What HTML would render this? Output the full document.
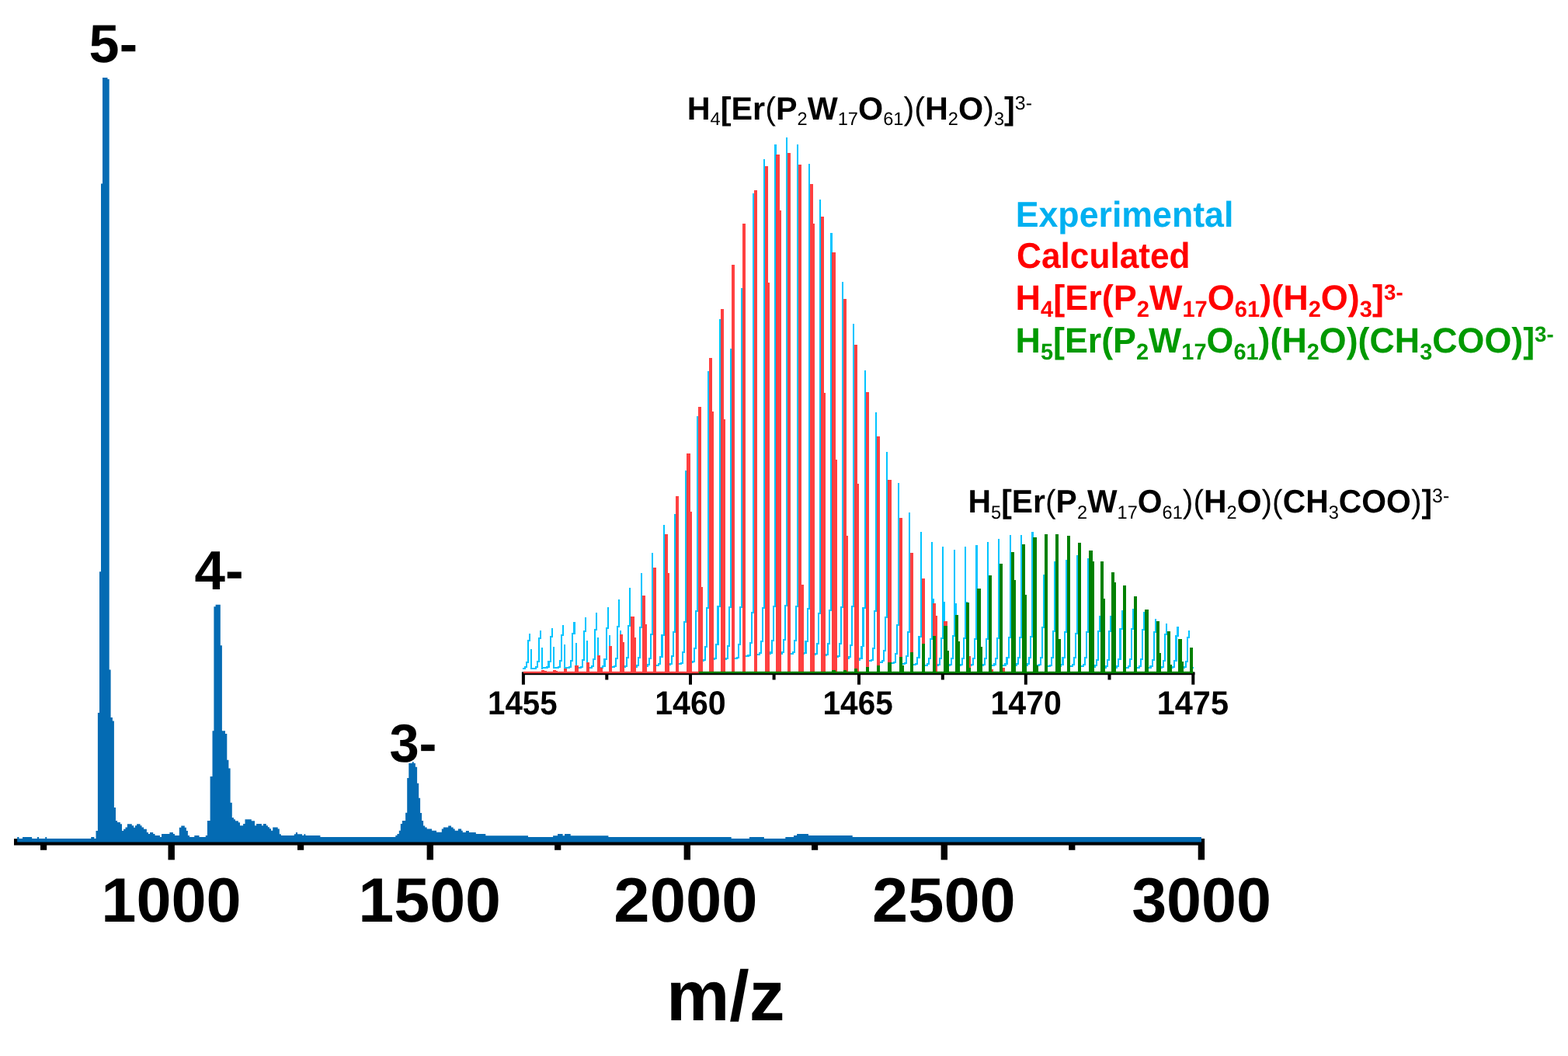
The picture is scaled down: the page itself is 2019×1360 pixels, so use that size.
<!DOCTYPE html>
<html><head><meta charset="utf-8"><title>ESI-MS spectrum</title>
<style>html,body{margin:0;padding:0;background:#fff;width:2019px;height:1360px;overflow:hidden}svg{display:block}text{font-family:"Liberation Sans",Arial,Helvetica,sans-serif;text-rendering:geometricPrecision}</style></head><body>
<svg width="2019" height="1360" viewBox="0 0 2019 1360">
<rect width="2019" height="1360" fill="#fff"/>
<g fill="#000">
<rect x="18" y="1080.2" width="1533" height="8.4"/>
<rect x="216.5" y="1080.2" width="8.4" height="27.2"/>
<rect x="549.6" y="1080.2" width="8.4" height="27.2"/>
<rect x="880.6" y="1080.2" width="8.4" height="27.2"/>
<rect x="1211.6" y="1080.2" width="8.4" height="27.2"/>
<rect x="1542.7" y="1080.2" width="8.4" height="27.2"/>
<rect x="52" y="1080.2" width="8.2" height="14.6"/>
<rect x="383" y="1080.2" width="8.2" height="14.6"/>
<rect x="714.1" y="1080.2" width="8.2" height="14.6"/>
<rect x="1045" y="1080.2" width="8.2" height="14.6"/>
<rect x="1376.2" y="1080.2" width="8.2" height="14.6"/>
</g>
<path d="M22.2,1084.4 L22.2,1078 L24.5,1078 L24.5,1080 L29,1080 L29,1078 L41.2,1078 L41.2,1080 L48,1080 L48,1078 L50,1078 L50,1080 L58.3,1080 L58.3,1078 L60.2,1078 L60.2,1080 L117.2,1080 L117.2,1078 L121.4,1078 L121.4,1080 L123.5,1080 L123.5,1070 L125.9,1070 L125.9,918 L128,918 L128,736.3 L130,736.3 L130,236.5 L132,236.5 L132,100 L138.5,100 L138.5,102 L140.7,102 L140.7,862.5 L142.6,862.5 L142.6,924 L144.9,924 L144.9,928.4 L146.9,928.4 L146.9,1040 L149,1040 L149,1057 L151.1,1057 L151.1,1059.1 L154.9,1059.1 L154.9,1061.2 L157,1061.2 L157,1069.9 L159.1,1069.9 L159.1,1067.8 L161.5,1067.8 L161.5,1065.4 L163.9,1065.4 L163.9,1061.2 L169.8,1061.2 L169.8,1063.3 L172.2,1063.3 L172.2,1065.7 L174,1065.7 L174,1063.3 L176.1,1063.3 L176.1,1061.2 L180.6,1061.2 L180.6,1063.3 L182.6,1063.3 L182.6,1065.4 L185.1,1065.4 L185.1,1067.8 L188.9,1067.8 L188.9,1072 L191,1072 L191,1074 L193,1074 L193,1072 L197.2,1072 L197.2,1074 L199.6,1074 L199.6,1076.1 L205.9,1076.1 L205.9,1077.9 L208,1077.9 L208,1074 L218.4,1074 L218.4,1072 L222.9,1072 L222.9,1074 L225,1074 L225,1076.1 L230.8,1076.1 L230.8,1065.7 L233.3,1065.7 L233.3,1063.6 L237.8,1063.6 L237.8,1065.7 L239.9,1065.7 L239.9,1069.9 L241.9,1069.9 L241.9,1076.1 L244,1076.1 L244,1077.9 L250.3,1077.9 L250.3,1076.1 L256.5,1076.1 L256.5,1077.9 L264.8,1077.9 L264.8,1076.1 L266.9,1076.1 L266.9,1057 L270.6,1057 L270.6,1000 L273.5,1000 L273.5,941.3 L275.4,941.3 L275.4,781.2 L277.6,781.2 L277.6,778.8 L283.8,778.8 L283.8,831.2 L285.9,831.2 L285.9,941.3 L290,941.3 L290,945 L292.3,945 L292.3,978.8 L294.4,978.8 L294.4,989.4 L296.6,989.4 L296.6,1033.8 L298.8,1033.8 L298.8,1053.1 L300.9,1053.1 L300.9,1055.2 L303,1055.2 L303,1057.2 L306.9,1057.2 L306.9,1059.3 L309,1059.3 L309,1063.2 L313.1,1063.2 L313.1,1061.1 L315.5,1061.1 L315.5,1055.2 L323.8,1055.2 L323.8,1057.2 L328,1057.2 L328,1063.2 L330.1,1063.2 L330.1,1061.1 L336.9,1061.1 L336.9,1063.2 L339,1063.2 L339,1061.1 L342.8,1061.1 L342.8,1063.2 L344.9,1063.2 L344.9,1065.3 L347,1065.3 L347,1067.3 L349.1,1067.3 L349.1,1069.7 L351.2,1069.7 L351.2,1065.6 L357.7,1065.6 L357.7,1067.6 L359.8,1067.6 L359.8,1074.2 L361.9,1074.2 L361.9,1076 L378.8,1076 L378.8,1074.2 L380.9,1074.2 L380.9,1072.1 L383,1072.1 L383,1074.2 L389.2,1074.2 L389.2,1076 L391.3,1076 L391.3,1074.2 L393.4,1074.2 L393.4,1076 L412.4,1076 L412.4,1078 L509.3,1078 L509.3,1076 L511.4,1076 L511.4,1073.9 L513.8,1073.9 L513.8,1069.7 L515.8,1069.7 L515.8,1061.1 L517.9,1061.1 L517.9,1056.9 L522.1,1056.9 L522.1,1046.7 L524.2,1046.7 L524.2,1002.1 L526.3,1002.1 L526.3,983 L530.7,983 L530.7,981.3 L532.8,981.3 L532.8,983 L534.9,983 L534.9,987.7 L537.1,987.7 L537.1,1008.8 L539.2,1008.8 L539.2,1027.8 L541.1,1027.8 L541.1,1046.9 L543.1,1046.9 L543.1,1057 L545.1,1057 L545.1,1063.4 L547.2,1063.4 L547.2,1065.5 L549.7,1065.5 L549.7,1067.6 L556.1,1067.6 L556.1,1069.7 L562,1069.7 L562,1071.8 L568.8,1071.8 L568.8,1067.6 L570.9,1067.6 L570.9,1065.5 L577.2,1065.5 L577.2,1063.4 L581,1063.4 L581,1065.5 L583.6,1065.5 L583.6,1067.6 L585.7,1067.6 L585.7,1069.7 L589.9,1069.7 L589.9,1067.6 L594.1,1067.6 L594.1,1069.7 L595.8,1069.7 L595.8,1071.9 L599.8,1071.9 L599.8,1070 L603.9,1070 L603.9,1072 L612.8,1072 L612.8,1074 L625.3,1074 L625.3,1076.2 L680,1076.2 L680,1078 L712.1,1078 L712.1,1076.2 L718,1076.2 L718,1074 L724.6,1074 L724.6,1076.2 L727,1076.2 L727,1074 L734.7,1074 L734.7,1076.2 L783.4,1076.2 L783.4,1078 L941.7,1078 L941.7,1080 L964.9,1080 L964.9,1078 L983.9,1078 L983.9,1080 L1011.3,1080 L1011.3,1078 L1022,1078 L1022,1076 L1026.1,1076 L1026.1,1074 L1041,1074 L1041,1076 L1097.7,1076 L1097.7,1078 L1547,1078 L1547,1084.4 Z" fill="#046bb3"/>
<g transform="matrix(1.01786,0,0,0.99900,-2.289,-0.400)"><text x="145.5" y="80" font-size="69" font-weight="bold" fill="#000" text-anchor="middle">5-</text></g>
<g transform="matrix(1.01379,0,0,1.01149,-2.762,-8.888)"><text x="281" y="759.6" font-size="70" font-weight="bold" fill="#000" text-anchor="middle">4-</text></g>
<g transform="matrix(0.98793,0,0,0.99696,6.859,2.802)"><text x="531.5" y="981" font-size="69.5" font-weight="bold" fill="#000" text-anchor="middle">3-</text></g>
<g transform="matrix(0.97914,0,0,0.97699,3.666,26.476)"><text x="221.5" y="1187.8" font-size="82.8" font-weight="bold" fill="#000" text-anchor="middle">1000</text></g>
<g transform="matrix(0.99771,0,0,0.97699,0.667,26.476)"><text x="553.8" y="1187.8" font-size="82.8" font-weight="bold" fill="#000" text-anchor="middle">1500</text></g>
<g transform="matrix(1.00452,0,0,0.97699,-5.898,26.476)"><text x="884.8" y="1187.8" font-size="82.8" font-weight="bold" fill="#000" text-anchor="middle">2000</text></g>
<g transform="matrix(1.00282,0,0,0.97699,-3.784,26.476)"><text x="1215.8" y="1187.8" font-size="82.8" font-weight="bold" fill="#000" text-anchor="middle">2500</text></g>
<g transform="matrix(0.97654,0,0,0.97699,36.387,26.476)"><text x="1547" y="1187.8" font-size="82.8" font-weight="bold" fill="#000" text-anchor="middle">3000</text></g>
<g transform="matrix(1.01773,0,0,1.01689,-18.372,-21.934)"><text x="936" y="1313.8" font-size="90" font-weight="bold" fill="#000" text-anchor="middle">m/z</text></g>
<g fill="#000">
<rect x="672" y="865.6" width="866.4" height="3.6"/>
<rect x="671.9" y="865.6" width="4" height="16.1"/>
<rect x="887" y="865.6" width="4" height="16.1"/>
<rect x="1104" y="865.6" width="4" height="16.1"/>
<rect x="1318.8" y="865.6" width="4" height="16.1"/>
<rect x="1534.3" y="865.6" width="4" height="16.1"/>
<rect x="779.3" y="865.6" width="4" height="9.9"/>
<rect x="994.6" y="865.6" width="4" height="9.9"/>
<rect x="1211.8" y="865.6" width="4" height="9.9"/>
<rect x="1426.5" y="865.6" width="4" height="9.9"/>
</g>
<g fill="#00c4ff" shape-rendering="crispEdges"><rect x="672.5" y="859.6" width="2.1" height="2"/><rect x="685" y="859.5" width="4" height="2"/><rect x="699.4" y="859.4" width="4" height="2"/><rect x="713.8" y="859.3" width="4" height="2"/><rect x="728.1" y="859.2" width="4" height="2"/><rect x="742.5" y="859" width="4" height="2"/><rect x="756.9" y="858.8" width="4" height="2"/><rect x="771.3" y="858.6" width="4" height="2"/><rect x="785.7" y="858.4" width="4" height="2"/><rect x="800.1" y="858" width="4" height="2"/><rect x="814.5" y="857.5" width="4" height="2"/><rect x="828.9" y="856.8" width="4" height="2"/><rect x="843.3" y="855.9" width="4" height="2"/><rect x="857.7" y="855.1" width="4" height="2"/><rect x="872" y="854.1" width="4" height="2"/><rect x="886.4" y="852.2" width="4" height="2"/><rect x="900.8" y="850.3" width="4" height="2"/><rect x="915.2" y="848.4" width="4" height="2"/><rect x="929.6" y="848" width="4" height="2"/><rect x="944" y="847.4" width="4" height="2"/><rect x="958.4" y="844.4" width="4" height="2"/><rect x="972.8" y="841.9" width="4" height="2"/><rect x="987.2" y="840.9" width="4" height="2"/><rect x="1001.6" y="840.5" width="4" height="2"/><rect x="1015.9" y="840.5" width="4" height="2"/><rect x="1030.3" y="841" width="4" height="2"/><rect x="1044.7" y="842.1" width="4" height="2"/><rect x="1059.1" y="843.4" width="4" height="2"/><rect x="1073.5" y="845" width="4" height="2"/><rect x="1087.9" y="846.8" width="4" height="2"/><rect x="1102.3" y="848.5" width="4" height="2"/><rect x="1116.7" y="850.2" width="4" height="2"/><rect x="1131.1" y="851.8" width="4" height="2"/><rect x="1145.5" y="853.1" width="4" height="2"/><rect x="1159.8" y="854.3" width="4" height="2"/><rect x="1174.2" y="855.2" width="4" height="2"/><rect x="1188.6" y="855.8" width="4" height="2"/><rect x="1203" y="856.1" width="4" height="2"/><rect x="1217.4" y="856.3" width="4" height="2"/><rect x="1231.8" y="856.3" width="4" height="2"/><rect x="1246.2" y="856.2" width="4" height="2"/><rect x="1260.6" y="856.1" width="4" height="2"/><rect x="1275" y="855.9" width="4" height="2"/><rect x="1289.4" y="855.8" width="4" height="2"/><rect x="1303.7" y="855.7" width="4" height="2"/><rect x="1318.1" y="855.7" width="4" height="2"/><rect x="1332.5" y="856.4" width="4" height="2"/><rect x="1346.9" y="857" width="4" height="2"/><rect x="1361.3" y="856.7" width="4" height="2"/><rect x="1375.7" y="856.6" width="4" height="2"/><rect x="1390.1" y="856.6" width="4" height="2"/><rect x="1404.5" y="857.7" width="4" height="2"/><rect x="1418.9" y="858.9" width="4" height="2"/><rect x="1433.3" y="858.8" width="4" height="2"/><rect x="1447.6" y="858.6" width="4" height="2"/><rect x="1462" y="858.7" width="4" height="2"/><rect x="1476.4" y="858.9" width="4" height="2"/><rect x="1490.8" y="859.1" width="4" height="2"/><rect x="1505.2" y="859.2" width="4" height="2"/><rect x="1519.6" y="859.4" width="4" height="2"/><rect x="1534" y="859.4" width="3.1" height="2"/><rect x="674.6" y="858.1" width="2.1" height="3.5"/><rect x="676.7" y="851.9" width="2.1" height="8.1"/><rect x="678.7" y="824.1" width="2.1" height="29.8"/><rect x="680.8" y="816" width="2.1" height="10.1"/><rect x="682.9" y="836.2" width="2.1" height="25.3"/><rect x="689" y="858" width="2.1" height="3.5"/><rect x="691.1" y="851.1" width="2.1" height="8.9"/><rect x="693.1" y="820.6" width="2.1" height="32.4"/><rect x="695.2" y="811.8" width="2.1" height="10.8"/><rect x="697.3" y="833.9" width="2.1" height="27.6"/><rect x="703.4" y="857.9" width="2.1" height="3.5"/><rect x="705.4" y="850.7" width="2.1" height="9.2"/><rect x="707.5" y="819.1" width="2.1" height="33.6"/><rect x="709.6" y="809.4" width="2.1" height="11.7"/><rect x="711.7" y="832.6" width="2.1" height="28.8"/><rect x="717.8" y="857.8" width="2.1" height="3.5"/><rect x="719.8" y="850.1" width="2.1" height="9.7"/><rect x="721.9" y="816.9" width="2.1" height="35.2"/><rect x="724" y="805.3" width="2.1" height="13.6"/><rect x="726.1" y="830.3" width="2.1" height="31"/><rect x="732.1" y="857.7" width="2.1" height="3.5"/><rect x="734.2" y="849.6" width="2.1" height="10.1"/><rect x="736.3" y="815" width="2.1" height="36.5"/><rect x="738.4" y="801.3" width="2.1" height="15.7"/><rect x="740.5" y="828.1" width="2.1" height="33.1"/><rect x="746.5" y="857.5" width="2.1" height="3.5"/><rect x="748.6" y="848.8" width="2.1" height="10.7"/><rect x="750.7" y="812.3" width="2.1" height="38.5"/><rect x="752.8" y="794.8" width="2.1" height="19.5"/><rect x="754.8" y="824.5" width="2.1" height="36.5"/><rect x="760.9" y="857.3" width="2.1" height="3.5"/><rect x="763" y="848.1" width="2.1" height="11.2"/><rect x="765.1" y="810.1" width="2.1" height="40"/><rect x="767.2" y="788.5" width="2.1" height="23.6"/><rect x="769.2" y="821.1" width="2.1" height="39.7"/><rect x="775.3" y="857.1" width="2.1" height="3.5"/><rect x="777.4" y="847.5" width="2.1" height="11.6"/><rect x="779.5" y="808.2" width="2.1" height="41.3"/><rect x="781.6" y="782" width="2.1" height="28.2"/><rect x="783.6" y="817.5" width="2.1" height="43.1"/><rect x="789.7" y="856.9" width="2.1" height="3.5"/><rect x="791.8" y="846.7" width="2.1" height="12.2"/><rect x="793.9" y="806.2" width="2.1" height="42.5"/><rect x="795.9" y="771.9" width="2.1" height="36.3"/><rect x="798" y="811.9" width="2.1" height="48.4"/><rect x="804.1" y="856.5" width="2.1" height="3.5"/><rect x="806.2" y="846" width="2.1" height="12.5"/><rect x="808.3" y="805.2" width="2.1" height="42.7"/><rect x="810.3" y="756.8" width="2.1" height="50.4"/><rect x="812.4" y="803.6" width="2.1" height="56.4"/><rect x="818.5" y="856" width="2.1" height="3.5"/><rect x="820.6" y="845.7" width="2.1" height="12.3"/><rect x="822.6" y="807.4" width="2.1" height="40.3"/><rect x="824.7" y="737.8" width="2.1" height="71.6"/><rect x="826.8" y="793.2" width="2.1" height="66.3"/><rect x="832.9" y="855.3" width="2.1" height="3.5"/><rect x="835" y="846.5" width="2.1" height="10.8"/><rect x="837" y="816.4" width="2.1" height="32.2"/><rect x="839.1" y="712.2" width="2.1" height="106.2"/><rect x="841.2" y="779.1" width="2.1" height="79.7"/><rect x="847.3" y="854.4" width="2.1" height="3.5"/><rect x="849.3" y="845.2" width="2.1" height="11.2"/><rect x="851.4" y="816.6" width="2.1" height="30.6"/><rect x="853.5" y="676.2" width="2.1" height="142.4"/><rect x="855.6" y="759.3" width="2.1" height="98.6"/><rect x="861.7" y="853.6" width="2.1" height="3.5"/><rect x="863.7" y="844" width="2.1" height="11.7"/><rect x="865.8" y="813.1" width="2.1" height="32.9"/><rect x="867.9" y="661.8" width="2.1" height="153.3"/><rect x="870" y="751.4" width="2.1" height="105.7"/><rect x="876" y="852.6" width="2.1" height="3.5"/><rect x="878.1" y="839.2" width="2.1" height="15.4"/><rect x="880.2" y="799.7" width="2.1" height="41.5"/><rect x="882.3" y="606" width="2.1" height="195.7"/><rect x="884.4" y="720.7" width="2.1" height="135.4"/><rect x="890.4" y="850.7" width="2.1" height="3.5"/><rect x="892.5" y="834.1" width="2.1" height="18.6"/><rect x="894.6" y="786.1" width="2.1" height="50"/><rect x="896.7" y="535.6" width="2.1" height="252.5"/><rect x="898.7" y="682" width="2.1" height="172.2"/><rect x="904.8" y="848.8" width="2.1" height="3.5"/><rect x="906.9" y="831.5" width="2.1" height="19.2"/><rect x="909" y="781.7" width="2.1" height="51.8"/><rect x="911.1" y="478.3" width="2.1" height="305.4"/><rect x="913.1" y="650.5" width="2.1" height="201.8"/><rect x="919.2" y="846.9" width="2.1" height="3.5"/><rect x="921.3" y="829.4" width="2.1" height="19.5"/><rect x="923.4" y="779.9" width="2.1" height="51.5"/><rect x="925.5" y="411" width="2.1" height="370.9"/><rect x="927.5" y="613.5" width="2.1" height="237"/><rect x="933.6" y="846.5" width="2.1" height="3.5"/><rect x="935.7" y="830.5" width="2.1" height="18"/><rect x="937.8" y="780.5" width="2.1" height="52"/><rect x="939.8" y="448.9" width="2.1" height="333.6"/><rect x="941.9" y="634.3" width="2.1" height="215.7"/><rect x="948" y="845.9" width="2.1" height="3.5"/><rect x="950.1" y="828.6" width="2.1" height="19.3"/><rect x="952.2" y="780.5" width="2.1" height="50"/><rect x="954.2" y="371" width="2.1" height="411.5"/><rect x="956.3" y="591.5" width="2.1" height="257.9"/><rect x="962.4" y="842.5" width="2.1" height="3.8"/><rect x="964.5" y="827.2" width="2.1" height="17.3"/><rect x="966.5" y="787.5" width="2.1" height="41.8"/><rect x="968.6" y="249" width="2.1" height="540.5"/><rect x="970.7" y="524.4" width="2.1" height="322"/><rect x="976.8" y="840.4" width="2.1" height="3.5"/><rect x="978.9" y="824.8" width="2.1" height="17.6"/><rect x="980.9" y="782.1" width="2.1" height="44.7"/><rect x="983" y="204.5" width="2.1" height="579.6"/><rect x="985.1" y="499.9" width="2.1" height="344"/><rect x="991.2" y="839.4" width="2.1" height="3.5"/><rect x="993.2" y="823.8" width="2.1" height="17.7"/><rect x="995.3" y="779.9" width="2.1" height="45.9"/><rect x="997.4" y="185.5" width="2.1" height="596.4"/><rect x="999.5" y="489.4" width="2.1" height="353.5"/><rect x="1005.6" y="839" width="2.1" height="3.5"/><rect x="1007.6" y="823.3" width="2.1" height="17.7"/><rect x="1009.7" y="778.9" width="2.1" height="46.4"/><rect x="1011.8" y="177.3" width="2.1" height="603.6"/><rect x="1013.9" y="484.9" width="2.1" height="357.6"/><rect x="1019.9" y="839" width="2.1" height="3.5"/><rect x="1022" y="823.8" width="2.1" height="17.3"/><rect x="1024.1" y="779.9" width="2.1" height="45.9"/><rect x="1026.2" y="185.5" width="2.1" height="596.4"/><rect x="1028.3" y="489.4" width="2.1" height="353.1"/><rect x="1034.3" y="839.5" width="2.1" height="3.5"/><rect x="1036.4" y="825.1" width="2.1" height="16.4"/><rect x="1038.5" y="782.9" width="2.1" height="44.2"/><rect x="1040.6" y="210.9" width="2.1" height="574"/><rect x="1042.6" y="503.4" width="2.1" height="339.6"/><rect x="1048.7" y="840.6" width="2.1" height="3.5"/><rect x="1050.8" y="827.7" width="2.1" height="14.9"/><rect x="1052.9" y="788.5" width="2.1" height="41.2"/><rect x="1055" y="257.2" width="2.1" height="533.3"/><rect x="1057" y="528.9" width="2.1" height="315.2"/><rect x="1063.1" y="841.9" width="2.1" height="3.5"/><rect x="1065.2" y="827.9" width="2.1" height="16.1"/><rect x="1067.3" y="784.9" width="2.1" height="45"/><rect x="1069.4" y="299.5" width="2.1" height="487.4"/><rect x="1071.4" y="552.1" width="2.1" height="293.3"/><rect x="1077.5" y="843.5" width="2.1" height="3.5"/><rect x="1079.6" y="828.4" width="2.1" height="17.1"/><rect x="1081.7" y="780.8" width="2.1" height="49.6"/><rect x="1083.7" y="362.8" width="2.1" height="420"/><rect x="1085.8" y="586.9" width="2.1" height="260.1"/><rect x="1091.9" y="845.3" width="2.1" height="3.5"/><rect x="1094" y="829.6" width="2.1" height="17.7"/><rect x="1096.1" y="779.9" width="2.1" height="51.6"/><rect x="1098.1" y="417.1" width="2.1" height="364.8"/><rect x="1100.2" y="616.8" width="2.1" height="232"/><rect x="1106.3" y="847" width="2.1" height="3.5"/><rect x="1108.4" y="831.5" width="2.1" height="17.5"/><rect x="1110.4" y="781.6" width="2.1" height="51.8"/><rect x="1112.5" y="476.6" width="2.1" height="307"/><rect x="1114.6" y="649.5" width="2.1" height="200.9"/><rect x="1120.7" y="848.7" width="2.1" height="3.5"/><rect x="1122.8" y="833.9" width="2.1" height="16.8"/><rect x="1124.8" y="785.7" width="2.1" height="50.2"/><rect x="1126.9" y="531.4" width="2.1" height="256.3"/><rect x="1129" y="679.7" width="2.1" height="172.5"/><rect x="1135.1" y="850.3" width="2.1" height="3.5"/><rect x="1137.1" y="837.2" width="2.1" height="15.1"/><rect x="1139.2" y="794" width="2.1" height="45.2"/><rect x="1141.3" y="582" width="2.1" height="214"/><rect x="1143.4" y="707.5" width="2.1" height="146.3"/><rect x="1149.5" y="851.6" width="2.1" height="3.5"/><rect x="1151.5" y="840.6" width="2.1" height="13"/><rect x="1153.6" y="803.6" width="2.1" height="39"/><rect x="1155.7" y="622.2" width="2.1" height="183.4"/><rect x="1157.8" y="729.6" width="2.1" height="125.5"/><rect x="1163.8" y="852.8" width="2.1" height="3.5"/><rect x="1165.9" y="843.8" width="2.1" height="11"/><rect x="1168" y="812.7" width="2.1" height="33.1"/><rect x="1170.1" y="660.1" width="2.1" height="154.6"/><rect x="1172.2" y="750.5" width="2.1" height="105.8"/><rect x="1178.2" y="853.7" width="2.1" height="3.5"/><rect x="1180.3" y="845.9" width="2.1" height="9.8"/><rect x="1182.4" y="818.7" width="2.1" height="29.3"/><rect x="1184.5" y="685" width="2.1" height="135.7"/><rect x="1186.5" y="764.2" width="2.1" height="93.1"/><rect x="1192.6" y="854.3" width="2.1" height="3.5"/><rect x="1194.7" y="847" width="2.1" height="9.3"/><rect x="1196.8" y="821.8" width="2.1" height="27.3"/><rect x="1198.9" y="697.9" width="2.1" height="125.9"/><rect x="1200.9" y="771.2" width="2.1" height="86.6"/><rect x="1207" y="854.6" width="2.1" height="3.5"/><rect x="1209.1" y="847" width="2.1" height="9.6"/><rect x="1211.2" y="820.6" width="2.1" height="28.4"/><rect x="1213.3" y="704.1" width="2.1" height="118.5"/><rect x="1215.3" y="774.7" width="2.1" height="83.4"/><rect x="1221.4" y="854.8" width="2.1" height="3.5"/><rect x="1223.5" y="846.7" width="2.1" height="10"/><rect x="1225.6" y="818.3" width="2.1" height="30.4"/><rect x="1227.6" y="708.3" width="2.1" height="112"/><rect x="1229.7" y="777" width="2.1" height="81.3"/><rect x="1235.8" y="854.8" width="2.1" height="3.5"/><rect x="1237.9" y="847" width="2.1" height="9.7"/><rect x="1240" y="820.6" width="2.1" height="28.4"/><rect x="1242" y="704.1" width="2.1" height="118.5"/><rect x="1244.1" y="774.7" width="2.1" height="83.6"/><rect x="1250.2" y="854.7" width="2.1" height="3.5"/><rect x="1252.3" y="847.2" width="2.1" height="9.5"/><rect x="1254.3" y="821.8" width="2.1" height="27.4"/><rect x="1256.4" y="702.1" width="2.1" height="121.7"/><rect x="1258.5" y="773.6" width="2.1" height="84.6"/><rect x="1264.6" y="854.6" width="2.1" height="3.5"/><rect x="1266.7" y="847" width="2.1" height="9.5"/><rect x="1268.7" y="821.8" width="2.1" height="27.3"/><rect x="1270.8" y="697.9" width="2.1" height="125.9"/><rect x="1272.9" y="771.2" width="2.1" height="86.8"/><rect x="1279" y="854.4" width="2.1" height="3.5"/><rect x="1281" y="846.7" width="2.1" height="9.8"/><rect x="1283.1" y="820.7" width="2.1" height="27.9"/><rect x="1285.2" y="693.5" width="2.1" height="129.2"/><rect x="1287.3" y="768.8" width="2.1" height="89.1"/><rect x="1293.4" y="854.3" width="2.1" height="3.5"/><rect x="1295.4" y="846.3" width="2.1" height="10"/><rect x="1297.5" y="819.7" width="2.1" height="28.6"/><rect x="1299.6" y="689.2" width="2.1" height="132.5"/><rect x="1301.7" y="766.5" width="2.1" height="91.3"/><rect x="1307.7" y="854.2" width="2.1" height="3.5"/><rect x="1309.8" y="846.3" width="2.1" height="9.9"/><rect x="1311.9" y="819.7" width="2.1" height="28.6"/><rect x="1314" y="689.2" width="2.1" height="132.5"/><rect x="1316.1" y="766.5" width="2.1" height="91.3"/><rect x="1322.1" y="854.2" width="2.1" height="3.5"/><rect x="1324.2" y="846" width="2.1" height="10.2"/><rect x="1326.3" y="818.7" width="2.1" height="29.2"/><rect x="1328.4" y="685.1" width="2.1" height="135.6"/><rect x="1330.4" y="764.2" width="2.1" height="93.5"/><rect x="1336.5" y="854.9" width="2.1" height="3.5"/><rect x="1338.6" y="845.7" width="2.1" height="11.3"/><rect x="1340.7" y="807" width="2.1" height="40.7"/><rect x="1342.8" y="740" width="2.1" height="69"/><rect x="1344.8" y="794.4" width="2.1" height="64"/><rect x="1350.9" y="855.5" width="2.1" height="3.5"/><rect x="1353" y="846" width="2.1" height="11.5"/><rect x="1355.1" y="811.7" width="2.1" height="36.3"/><rect x="1357.2" y="723" width="2.1" height="90.7"/><rect x="1359.2" y="785.1" width="2.1" height="74"/><rect x="1365.3" y="855.2" width="2.1" height="3.5"/><rect x="1367.4" y="846.1" width="2.1" height="11.2"/><rect x="1369.5" y="812.5" width="2.1" height="35.6"/><rect x="1371.5" y="721" width="2.1" height="93.5"/><rect x="1373.6" y="784" width="2.1" height="74.8"/><rect x="1379.7" y="855.1" width="2.1" height="3.5"/><rect x="1381.8" y="846.4" width="2.1" height="10.7"/><rect x="1383.9" y="815.3" width="2.1" height="33.1"/><rect x="1385.9" y="714.5" width="2.1" height="102.8"/><rect x="1388" y="780.4" width="2.1" height="78.2"/><rect x="1394.1" y="855.1" width="2.1" height="3.5"/><rect x="1396.2" y="846.2" width="2.1" height="10.9"/><rect x="1398.2" y="813.4" width="2.1" height="34.8"/><rect x="1400.3" y="718.8" width="2.1" height="96.6"/><rect x="1402.4" y="782.7" width="2.1" height="75.8"/><rect x="1408.5" y="856.2" width="2.1" height="3.5"/><rect x="1410.6" y="848.6" width="2.1" height="9.7"/><rect x="1412.6" y="811.5" width="2.1" height="39"/><rect x="1414.7" y="792.7" width="2.1" height="20.8"/><rect x="1416.8" y="823.4" width="2.1" height="36.4"/><rect x="1422.9" y="857.4" width="2.1" height="3.5"/><rect x="1424.9" y="848.6" width="2.1" height="10.8"/><rect x="1427" y="811.5" width="2.1" height="39"/><rect x="1429.1" y="792.7" width="2.1" height="20.8"/><rect x="1431.2" y="823.4" width="2.1" height="37.5"/><rect x="1437.3" y="857.3" width="2.1" height="3.5"/><rect x="1439.3" y="847.9" width="2.1" height="11.4"/><rect x="1441.4" y="809.3" width="2.1" height="40.5"/><rect x="1443.5" y="786.1" width="2.1" height="25.2"/><rect x="1445.6" y="819.8" width="2.1" height="41"/><rect x="1451.6" y="857.1" width="2.1" height="3.5"/><rect x="1453.7" y="847.7" width="2.1" height="11.4"/><rect x="1455.8" y="808.7" width="2.1" height="41"/><rect x="1457.9" y="783.9" width="2.1" height="26.8"/><rect x="1460" y="818.5" width="2.1" height="42.1"/><rect x="1466" y="857.2" width="2.1" height="3.5"/><rect x="1468.1" y="848.1" width="2.1" height="11.1"/><rect x="1470.2" y="810" width="2.1" height="40.1"/><rect x="1472.3" y="788.3" width="2.1" height="23.7"/><rect x="1474.3" y="821" width="2.1" height="39.7"/><rect x="1480.4" y="857.4" width="2.1" height="3.5"/><rect x="1482.5" y="849" width="2.1" height="10.3"/><rect x="1484.6" y="813.1" width="2.1" height="37.9"/><rect x="1486.7" y="796.9" width="2.1" height="18.2"/><rect x="1488.7" y="825.7" width="2.1" height="35.2"/><rect x="1494.8" y="857.6" width="2.1" height="3.5"/><rect x="1496.9" y="849.8" width="2.1" height="9.8"/><rect x="1499" y="815.9" width="2.1" height="35.9"/><rect x="1501.1" y="803.2" width="2.1" height="14.7"/><rect x="1503.1" y="829.2" width="2.1" height="31.9"/><rect x="1509.2" y="857.7" width="2.1" height="3.5"/><rect x="1511.3" y="850.4" width="2.1" height="9.3"/><rect x="1513.4" y="818" width="2.1" height="34.4"/><rect x="1515.4" y="807.4" width="2.1" height="12.6"/><rect x="1517.5" y="831.5" width="2.1" height="29.8"/><rect x="1523.6" y="857.9" width="2.1" height="3.5"/><rect x="1525.7" y="851" width="2.1" height="8.8"/><rect x="1527.8" y="820.4" width="2.1" height="32.6"/><rect x="1529.8" y="811.5" width="2.1" height="10.9"/><rect x="1531.9" y="833.7" width="2.1" height="27.6"/></g>
<rect x="674" y="864.8" width="226" height="2.4" fill="#ff4040"/>
<g fill="#ff4040" shape-rendering="crispEdges"><rect x="697.2" y="863" width="4.2" height="3"/><rect x="701.2" y="864.4" width="2.3" height="1.6"/><rect x="711.6" y="863" width="4.2" height="3"/><rect x="715.6" y="864.2" width="2.3" height="1.8"/><rect x="726" y="861" width="4.2" height="5"/><rect x="740.4" y="856.9" width="4.2" height="9.1"/><rect x="744.4" y="865.4" width="2.3" height="0.6"/><rect x="754.8" y="852.8" width="4.2" height="13.2"/><rect x="769.2" y="844.1" width="4.2" height="21.9"/><rect x="773.2" y="860.3" width="2.3" height="5.7"/><rect x="783.6" y="831.6" width="4.2" height="34.4"/><rect x="797.9" y="817" width="4.2" height="49"/><rect x="801.9" y="826.7" width="2.3" height="39.3"/><rect x="812.3" y="794.2" width="4.2" height="71.8"/><rect x="816.3" y="821.1" width="2.3" height="44.9"/><rect x="826.7" y="766.5" width="4.2" height="99.5"/><rect x="830.7" y="804.2" width="2.3" height="61.8"/><rect x="841.1" y="731.2" width="4.2" height="134.8"/><rect x="855.5" y="688" width="4.2" height="178"/><rect x="859.5" y="738.4" width="2.3" height="127.6"/><rect x="869.9" y="639.4" width="4.2" height="226.6"/><rect x="884.3" y="583.5" width="4.2" height="282.5"/><rect x="888.3" y="659.1" width="2.3" height="206.9"/><rect x="898.7" y="524.2" width="4.2" height="341.8"/><rect x="902.7" y="756.2" width="2.3" height="109.8"/><rect x="913.1" y="460.8" width="4.2" height="405.2"/><rect x="917.1" y="530.1" width="2.3" height="335.9"/><rect x="927.5" y="397.5" width="4.2" height="468.5"/><rect x="931.5" y="539.5" width="2.3" height="326.5"/><rect x="941.8" y="340.6" width="4.2" height="525.4"/><rect x="956.2" y="287.7" width="4.2" height="578.3"/><rect x="970.6" y="245.4" width="4.2" height="620.6"/><rect x="985" y="214.1" width="4.2" height="651.9"/><rect x="989" y="363.5" width="2.3" height="502.5"/><rect x="999.4" y="199" width="4.2" height="667"/><rect x="1003.4" y="271" width="2.3" height="595"/><rect x="1013.8" y="197.2" width="4.2" height="668.8"/><rect x="1028.2" y="211.9" width="4.2" height="654.1"/><rect x="1032.2" y="753.3" width="2.3" height="112.7"/><rect x="1042.6" y="237.1" width="4.2" height="628.9"/><rect x="1046.6" y="288.1" width="2.3" height="577.9"/><rect x="1057" y="279" width="4.2" height="587"/><rect x="1061" y="505.6" width="2.3" height="360.4"/><rect x="1071.4" y="325.3" width="4.2" height="540.7"/><rect x="1075.4" y="592.1" width="2.3" height="273.9"/><rect x="1085.7" y="385" width="4.2" height="481"/><rect x="1089.7" y="690" width="2.3" height="176"/><rect x="1100.1" y="443.8" width="4.2" height="422.2"/><rect x="1104.1" y="622.9" width="2.3" height="243.1"/><rect x="1114.5" y="504.9" width="4.2" height="361.1"/><rect x="1128.9" y="561.8" width="4.2" height="304.2"/><rect x="1143.3" y="618.4" width="4.2" height="247.6"/><rect x="1157.7" y="667" width="4.2" height="199"/><rect x="1172.1" y="711.5" width="4.2" height="154.5"/><rect x="1186.5" y="745.4" width="4.2" height="120.6"/><rect x="1200.9" y="777" width="4.2" height="89"/><rect x="1204.9" y="792.6" width="2.3" height="73.4"/><rect x="1215.3" y="799.8" width="4.2" height="66.2"/><rect x="1229.6" y="820" width="4.2" height="46"/><rect x="1244" y="835" width="4.2" height="31"/><rect x="1248" y="844.5" width="2.3" height="21.5"/><rect x="1258.4" y="846" width="4.2" height="20"/><rect x="1262.4" y="850" width="2.3" height="16"/><rect x="1272.8" y="853" width="4.2" height="13"/><rect x="1276.8" y="862" width="2.3" height="4"/><rect x="1287.2" y="858" width="4.2" height="8"/><rect x="1291.2" y="859.5" width="2.3" height="6.5"/><rect x="1301.6" y="861" width="4.2" height="5"/><rect x="1316" y="863" width="4.2" height="3"/><rect x="1320" y="863.7" width="2.3" height="2.3"/></g>
<rect x="899.6" y="864.8" width="636.8" height="2.4" fill="#008000"/>
<g fill="#008000" shape-rendering="crispEdges"><rect x="1071.4" y="863.1" width="4.2" height="2.9"/><rect x="1085.7" y="863.1" width="4.2" height="2.9"/><rect x="1100.1" y="861.1" width="4.2" height="4.9"/><rect x="1114.5" y="859.1" width="4.2" height="6.9"/><rect x="1128.9" y="857.2" width="4.2" height="8.8"/><rect x="1143.3" y="852.8" width="4.2" height="13.2"/><rect x="1157.7" y="846.4" width="4.2" height="19.6"/><rect x="1161.7" y="856.8" width="2.3" height="9.2"/><rect x="1172.1" y="840" width="4.2" height="26"/><rect x="1186.5" y="829.4" width="4.2" height="36.6"/><rect x="1200.9" y="818.9" width="4.2" height="47.1"/><rect x="1215.3" y="805.7" width="4.2" height="60.3"/><rect x="1219.3" y="837.5" width="2.3" height="28.5"/><rect x="1229.6" y="791.9" width="4.2" height="74.1"/><rect x="1233.6" y="826" width="2.3" height="40"/><rect x="1244" y="776.1" width="4.2" height="89.9"/><rect x="1248" y="860.4" width="2.3" height="5.6"/><rect x="1258.4" y="758" width="4.2" height="108"/><rect x="1262.4" y="833.4" width="2.3" height="32.6"/><rect x="1272.8" y="741.1" width="4.2" height="124.9"/><rect x="1287.2" y="726.3" width="4.2" height="139.7"/><rect x="1301.6" y="711.4" width="4.2" height="154.6"/><rect x="1305.6" y="747.4" width="2.3" height="118.6"/><rect x="1316" y="701.1" width="4.2" height="164.9"/><rect x="1320" y="766.1" width="2.3" height="99.9"/><rect x="1330.4" y="692.2" width="4.2" height="173.8"/><rect x="1334.4" y="857" width="2.3" height="9"/><rect x="1344.8" y="688" width="4.2" height="178"/><rect x="1359.2" y="688" width="4.2" height="178"/><rect x="1363.2" y="822.6" width="2.3" height="43.4"/><rect x="1373.5" y="690" width="4.2" height="176"/><rect x="1387.9" y="698.6" width="4.2" height="167.4"/><rect x="1402.3" y="709.2" width="4.2" height="156.8"/><rect x="1406.3" y="722.5" width="2.3" height="143.5"/><rect x="1416.7" y="722.5" width="4.2" height="143.5"/><rect x="1420.7" y="771.3" width="2.3" height="94.7"/><rect x="1431.1" y="736.8" width="4.2" height="129.2"/><rect x="1435.1" y="750.1" width="2.3" height="115.9"/><rect x="1445.5" y="753.5" width="4.2" height="112.5"/><rect x="1459.9" y="768.4" width="4.2" height="97.6"/><rect x="1474.3" y="785.1" width="4.2" height="80.9"/><rect x="1488.7" y="800" width="4.2" height="66"/><rect x="1492.7" y="841.2" width="2.3" height="24.8"/><rect x="1503.1" y="812.6" width="4.2" height="53.4"/><rect x="1507.1" y="856.3" width="2.3" height="9.7"/><rect x="1517.4" y="822.8" width="4.2" height="43.2"/><rect x="1521.4" y="852.1" width="2.3" height="13.9"/><rect x="1531.8" y="833.5" width="4.2" height="32.5"/></g>
<g transform="matrix(0.95275,0,0,1.01622,30.822,-14.028)"><text x="673.9" y="919.4" font-size="42.3" font-weight="bold" fill="#000" text-anchor="middle">1455</text></g>
<g transform="matrix(0.97222,0,0,1.01622,24.172,-14.028)"><text x="889.5" y="919.4" font-size="42.3" font-weight="bold" fill="#000" text-anchor="middle">1460</text></g>
<g transform="matrix(0.95889,0,0,1.01622,44.619,-14.028)"><text x="1105.5" y="919.4" font-size="42.3" font-weight="bold" fill="#000" text-anchor="middle">1465</text></g>
<g transform="matrix(0.97111,0,0,1.01622,37.891,-14.028)"><text x="1321.5" y="919.4" font-size="42.3" font-weight="bold" fill="#000" text-anchor="middle">1470</text></g>
<g transform="matrix(0.98111,0,0,1.01622,27.901,-14.028)"><text x="1537" y="919.4" font-size="42.3" font-weight="bold" fill="#000" text-anchor="middle">1475</text></g>
<g transform="matrix(0.96857,0,0,0.96732,29.914,4.200)"><text x="882.5" y="154.7" font-size="42.7" font-weight="bold" fill="#000"><tspan>H</tspan><tspan dy="7.8" font-size="24.4" font-weight="normal">4</tspan><tspan dy="-7.8">[Er</tspan><tspan font-weight="normal">(</tspan><tspan>P</tspan><tspan dy="7.8" font-size="24.4" font-weight="normal">2</tspan><tspan dy="-7.8">W</tspan><tspan dy="7.8" font-size="24.4" font-weight="normal">17</tspan><tspan dy="-7.8">O</tspan><tspan dy="7.8" font-size="24.4" font-weight="normal">61</tspan><tspan dy="-7.8" font-weight="normal">)(</tspan><tspan>H</tspan><tspan dy="7.8" font-size="24.4" font-weight="normal">2</tspan><tspan dy="-7.8">O</tspan><tspan font-weight="normal">)</tspan><tspan dy="7.8" font-size="24.4" font-weight="normal">3</tspan><tspan dy="-7.8">]</tspan><tspan dy="-13.5" font-size="25.7" font-weight="normal">3-</tspan></text></g>
<g transform="matrix(0.96609,0,0,0.98901,43.818,6.590)"><text x="1245" y="660.7" font-size="42.3" font-weight="bold" fill="#000"><tspan>H</tspan><tspan dy="7.8" font-size="24.4" font-weight="normal">5</tspan><tspan dy="-7.8">[Er</tspan><tspan font-weight="normal">(</tspan><tspan>P</tspan><tspan dy="7.8" font-size="24.4" font-weight="normal">2</tspan><tspan dy="-7.8">W</tspan><tspan dy="7.8" font-size="24.4" font-weight="normal">17</tspan><tspan dy="-7.8">O</tspan><tspan dy="7.8" font-size="24.4" font-weight="normal">61</tspan><tspan dy="-7.8" font-weight="normal">)(</tspan><tspan>H</tspan><tspan dy="7.8" font-size="24.4" font-weight="normal">2</tspan><tspan dy="-7.8">O</tspan><tspan font-weight="normal">)(</tspan><tspan>CH</tspan><tspan dy="7.8" font-size="24.4" font-weight="normal">3</tspan><tspan dy="-7.8">COO</tspan><tspan font-weight="normal">)</tspan><tspan>]</tspan><tspan dy="-13.5" font-size="25.7" font-weight="normal">3-</tspan></text></g>
<g transform="matrix(0.96961,0,0,1.00000,40.909,0.000)"><text x="1306.5" y="291.9" font-size="46.1" font-weight="bold" fill="#00b0f0">Experimental</text></g>
<g transform="matrix(0.95852,0,0,1.00000,56.762,0.000)"><text x="1306.5" y="344.5" font-size="46.1" font-weight="bold" fill="#ff0000">Calculated</text></g>
<g transform="matrix(0.98920,0,0,1.00000,15.148,0.000)"><text x="1306.5" y="399.2" font-size="45.5" font-weight="bold" fill="#ff0000"><tspan>H</tspan><tspan dy="8.5" font-size="29.4" font-weight="bold">4</tspan><tspan dy="-8.5">[Er(P</tspan><tspan dy="8.5" font-size="29.4" font-weight="bold">2</tspan><tspan dy="-8.5">W</tspan><tspan dy="8.5" font-size="29.4" font-weight="bold">17</tspan><tspan dy="-8.5">O</tspan><tspan dy="8.5" font-size="29.4" font-weight="bold">61</tspan><tspan dy="-8.5">)(H</tspan><tspan dy="8.5" font-size="29.4" font-weight="bold">2</tspan><tspan dy="-8.5">O)</tspan><tspan dy="8.5" font-size="29.4" font-weight="bold">3</tspan><tspan dy="-8.5">]</tspan><tspan dy="-13.7" font-size="28" font-weight="bold">3-</tspan></text></g>
<g transform="matrix(0.98414,0,0,1.00000,21.773,0.000)"><text x="1306.5" y="454" font-size="45.5" font-weight="bold" fill="#009900"><tspan>H</tspan><tspan dy="8.6" font-size="29.4" font-weight="bold">5</tspan><tspan dy="-8.6">[Er(P</tspan><tspan dy="8.6" font-size="29.4" font-weight="bold">2</tspan><tspan dy="-8.6">W</tspan><tspan dy="8.6" font-size="29.4" font-weight="bold">17</tspan><tspan dy="-8.6">O</tspan><tspan dy="8.6" font-size="29.4" font-weight="bold">61</tspan><tspan dy="-8.6">)(H</tspan><tspan dy="8.6" font-size="29.4" font-weight="bold">2</tspan><tspan dy="-8.6">O)(CH</tspan><tspan dy="8.6" font-size="29.4" font-weight="bold">3</tspan><tspan dy="-8.6">COO)]</tspan><tspan dy="-13.7" font-size="28" font-weight="bold">3-</tspan></text></g>
</svg></body></html>
